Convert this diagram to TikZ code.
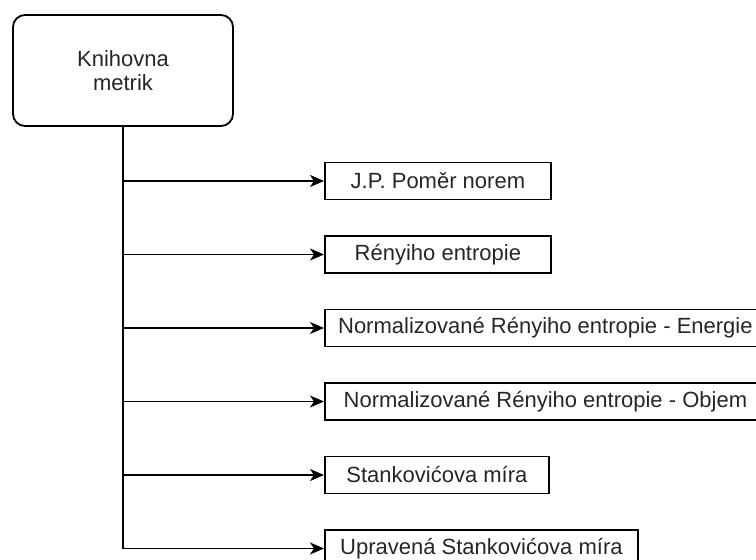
\documentclass[tikz,border=0pt]{standalone}
\usepackage{fontspec}
\setmainfont{Liberation Sans}
\usetikzlibrary{arrows.meta}

\tikzset{
  lbl/.style={font=\fontsize{22pt}{24pt}\selectfont, text=black!85, inner sep=0pt},
  rootbox/.style={lbl, draw=black, line width=1.8pt, rounded corners=12pt,
    minimum width=220pt, minimum height=111pt, align=center},
  leafbox/.style={lbl, draw=black, line width=1.8pt, anchor=west,
    minimum height=37pt},
  branch/.style={line width=1.8pt, draw=black,
    -{Stealth[length=14pt,width=12pt,inset=4pt]}},
}

\begin{document}
\begin{tikzpicture}[x=1pt,y=-1pt]
  \path[use as bounding box] (0,0) rectangle (756,560);
  \clip (0,0) rectangle (756,560);

  \node[rootbox] (root) at (123,70.5) {Knihovna\\metrik};

  \node[leafbox, minimum width=226pt] (m1) at (324,181)   {J.P. Poměr norem};
  \node[leafbox, minimum width=226pt] (m2) at (324,254.5) {Rényiho entropie};
  \node[leafbox, minimum width=441pt] (m3) at (324,328)   {Normalizované Rényiho entropie - Energie};
  \node[leafbox, minimum width=441pt] (m4) at (324,401.5) {Normalizované Rényiho entropie - Objem};
  \node[leafbox, minimum width=224pt] (m5) at (324,475)   {Stankovićova míra};
  \node[leafbox, minimum width=313pt] (m6) at (324,548.5) {Upravená Stankovićova míra};

  \foreach \m in {m1,m2,m3,m4,m5,m6}
    \draw[branch] (root.south) |- (\m.west);
\end{tikzpicture}
\end{document}
